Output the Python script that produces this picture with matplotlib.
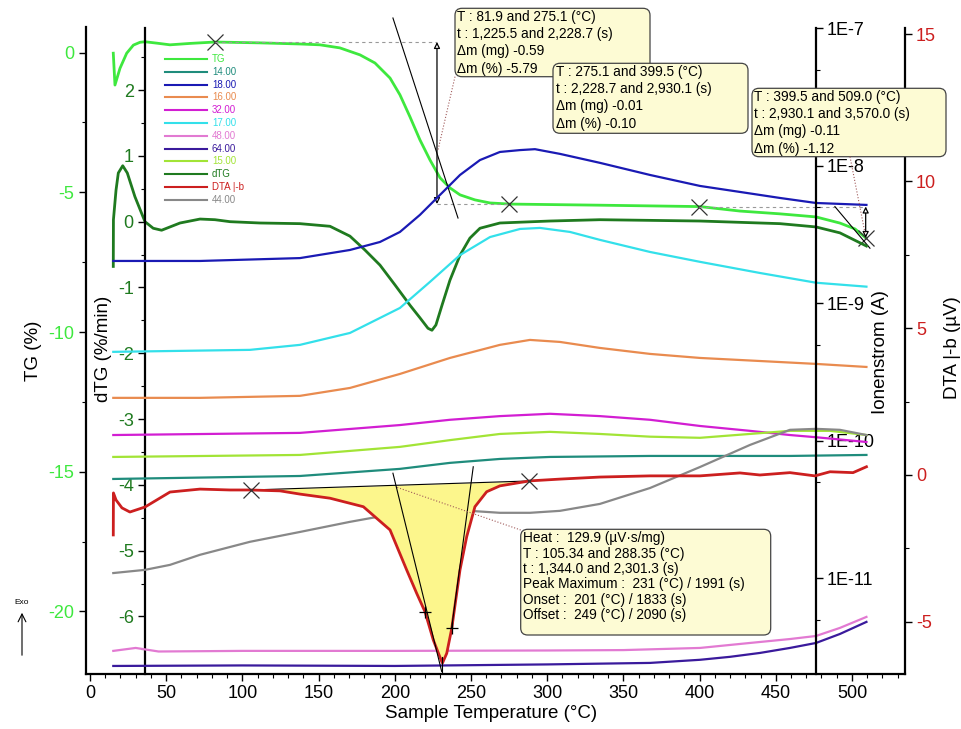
import numpy as np
import matplotlib.pyplot as plt
from matplotlib.patches import FancyBboxPatch, FancyArrowPatch
from matplotlib.lines import Line2D
from matplotlib.transforms import IdentityTransform
from matplotlib.ticker import MultipleLocator, FixedLocator, FuncFormatter

plt.rcParams['font.family'] = ['Liberation Sans', 'DejaVu Sans']
plt.rcParams['axes.unicode_minus'] = False

# ---------------- data ----------------
# TG (%)
T_tg = [15.3, 16.4, 19.7, 24.1, 28.5, 32.8, 36.1, 43.8, 52.5, 65.6, 82.0, 111.5, 137.8, 150.9,
        164.0, 177.2, 187.0, 196.9, 203.4, 210.0, 216.5, 223.1, 229.7, 236.2, 242.8, 252.6,
        262.5, 275.6, 334.6, 400.3, 426.5, 452.8, 476.4, 492.1, 502.0, 509.0]
tg = [-0.02, -1.16, -0.56, -0.02, 0.27, 0.37, 0.39, 0.34, 0.28, 0.33, 0.38, 0.35, 0.31, 0.28,
      0.17, -0.08, -0.37, -0.91, -1.51, -2.30, -3.12, -3.84, -4.48, -4.84, -5.09, -5.27,
      -5.38, -5.42, -5.46, -5.51, -5.67, -5.77, -5.88, -6.10, -6.31, -6.63]

# dTG (%/min)
T_dtg = [15.3, 15.4, 17.1, 18.6, 21.5, 24.5, 29.5, 36.1, 41.5, 47.0, 52.5, 59.1, 72.2, 82.0,
         91.9, 111.5, 137.8, 157.5, 170.6, 180.4, 190.3, 200.1, 210.0, 216.5, 221.8, 224.4,
         227.0, 231.0, 236.2, 242.8, 249.3, 255.9, 269.0, 301.8, 334.6, 400.3, 452.8, 476.4,
         492.1, 509.5]
dtg = [-0.68, 0.03, 0.48, 0.74, 0.85, 0.74, 0.38, 0.00, -0.10, -0.13, -0.08, -0.02, 0.04, 0.03,
       0.00, -0.02, -0.03, -0.07, -0.22, -0.43, -0.66, -0.96, -1.27, -1.46, -1.62, -1.65,
       -1.57, -1.27, -0.89, -0.51, -0.25, -0.10, -0.02, 0.01, 0.03, 0.01, -0.03, -0.08,
       -0.17, -0.37]

# DTA |-b (uV)
T_dta = [15.3, 15.4, 17.1, 21.0, 26.2, 36.1, 52.5, 72.2, 91.9, 105.0, 124.7, 137.8, 157.5,
         179.4, 196.9, 207.8, 214.4, 219.8, 225.3, 230.8, 231.3, 234.1, 237.4, 242.8, 247.2,
         252.6, 260.3, 269.0, 288.7, 308.4, 334.6, 367.5, 400.3, 426.5, 439.6, 459.3, 475.7,
         485.6, 500.7, 509.5]
dta = [-2.04, -0.61, -0.85, -1.12, -1.26, -1.09, -0.58, -0.48, -0.51, -0.51, -0.54, -0.65,
       -0.79, -1.08, -1.87, -3.23, -4.03, -4.65, -5.62, -6.35, -6.40, -6.07, -5.22, -3.23,
       -2.10, -1.08, -0.57, -0.37, -0.20, -0.14, -0.07, -0.03, -0.03, 0.07, 0.00, 0.08,
       -0.03, 0.11, 0.08, 0.28]

# ion currents (A), m/z channels
T_i18 = [15.3, 72.2, 137.8, 170.6, 190.3, 203.4, 216.5, 229.7, 242.8, 255.9, 269.0, 282.2,
         292.0, 308.4, 334.6, 367.5, 400.3, 426.5, 452.8, 476.4, 509.5]
i18 = [2.03e-9, 2.03e-9, 2.13e-9, 2.44e-9, 2.79e-9, 3.30e-9, 4.39e-9, 6.14e-9, 8.57e-9,
       1.10e-8, 1.26e-8, 1.30e-8, 1.32e-8, 1.22e-8, 1.05e-8, 8.57e-9, 7.13e-9, 6.45e-9,
       5.83e-9, 5.36e-9, 5.19e-9]
T_i17 = [15.3, 105.0, 137.8, 170.6, 203.4, 223.1, 242.8, 262.5, 282.2, 295.3, 315.0, 334.6,
         367.5, 400.3, 439.6, 476.4, 509.5]
i17 = [4.43e-10, 4.58e-10, 4.98e-10, 6.08e-10, 9.24e-10, 1.43e-9, 2.24e-9, 3.03e-9, 3.47e-9,
       3.53e-9, 3.30e-9, 2.89e-9, 2.36e-9, 2.00e-9, 1.66e-9, 1.41e-9, 1.32e-9]
T_i16 = [15.3, 72.2, 137.8, 170.6, 203.4, 236.2, 269.0, 288.7, 308.4, 334.6, 367.5, 400.3,
         439.6, 476.4, 509.5]
i16 = [2.05e-10, 2.05e-10, 2.12e-10, 2.42e-10, 3.06e-10, 4.00e-10, 4.98e-10, 5.41e-10,
       5.23e-10, 4.73e-10, 4.28e-10, 4.00e-10, 3.80e-10, 3.62e-10, 3.44e-10]
T_i32 = [15.3, 137.8, 203.4, 236.2, 269.0, 301.8, 334.6, 367.5, 400.3, 433.0, 459.3, 476.4, 509.5]
i32 = [1.10e-10, 1.14e-10, 1.30e-10, 1.42e-10, 1.51e-10, 1.57e-10, 1.51e-10, 1.42e-10,
       1.28e-10, 1.18e-10, 1.10e-10, 1.06e-10, 9.79e-11]
T_i15 = [15.3, 137.8, 203.4, 236.2, 269.0, 301.8, 334.6, 367.5, 400.3, 433.0, 459.3, 485.6, 509.5]
i15 = [7.62e-11, 7.88e-11, 9.02e-11, 1.01e-10, 1.12e-10, 1.16e-10, 1.12e-10, 1.07e-10,
       1.05e-10, 1.12e-10, 1.18e-10, 1.18e-10, 1.10e-10]
T_i14 = [15.3, 137.8, 203.4, 236.2, 269.0, 301.8, 367.5, 459.3, 509.5]
i14 = [5.27e-11, 5.54e-11, 6.24e-11, 6.90e-11, 7.37e-11, 7.62e-11, 7.75e-11, 7.75e-11, 7.88e-11]
T_i44 = [15.3, 36.1, 52.5, 72.2, 105.0, 137.8, 170.6, 203.4, 223.1, 249.3, 269.0, 288.7,
         308.4, 334.6, 367.5, 400.3, 433.0, 459.3, 476.4, 492.1, 509.5]
i44 = [1.09e-11, 1.15e-11, 1.25e-11, 1.48e-11, 1.84e-11, 2.17e-11, 2.57e-11, 2.99e-11,
       3.14e-11, 3.09e-11, 2.99e-11, 2.99e-11, 3.09e-11, 3.47e-11, 4.53e-11, 6.44e-11,
       9.31e-11, 1.20e-10, 1.22e-10, 1.20e-10, 1.10e-10]
T_i48 = [15.3, 30.0, 45.0, 100.0, 200.0, 300.0, 350.0, 400.3, 433.0, 459.3, 476.4, 492.1, 509.5]
i48 = [2.96e-12, 3.11e-12, 2.93e-12, 2.96e-12, 2.96e-12, 2.98e-12, 3.00e-12, 3.11e-12,
       3.38e-12, 3.61e-12, 3.80e-12, 4.35e-12, 5.23e-12]
T_i64 = [15.3, 100.0, 200.0, 300.0, 367.5, 400.3, 420.0, 439.6, 459.3, 476.4, 492.1, 509.5]
i64 = [2.30e-12, 2.32e-12, 2.30e-12, 2.36e-12, 2.42e-12, 2.55e-12, 2.68e-12, 2.86e-12,
       3.11e-12, 3.38e-12, 3.93e-12, 4.81e-12]

# evaluation results
tg_steps = [81.9, 275.1, 399.5, 509.0]
peak_lim = [105.34, 288.35]
onset_T, peak_T, offset_T = 201, 231, 249

box_texts = [
    "T : 81.9 and 275.1 (°C)\nt : 1,225.5 and 2,228.7 (s)\nΔm (mg) -0.59\nΔm (%) -5.79",
    "T : 275.1 and 399.5 (°C)\nt : 2,228.7 and 2,930.1 (s)\nΔm (mg) -0.01\nΔm (%) -0.10",
    "T : 399.5 and 509.0 (°C)\nt : 2,930.1 and 3,570.0 (s)\nΔm (mg) -0.11\nΔm (%) -1.12",
    "Heat :  129.9 (µV·s/mg)\nT : 105.34 and 288.35 (°C)\nt : 1,344.0 and 2,301.3 (s)\n"
    "Peak Maximum :  231 (°C) / 1991 (s)\nOnset :  201 (°C) / 1833 (s)\nOffset :  249 (°C) / 2090 (s)",
]

# ---------------- figure ----------------
W, H = 962, 729
fig = plt.figure(figsize=(W / 100, H / 100), dpi=100)
L, R, TOP, BOT = 85.7, 905, 27.5, 674
ax = fig.add_axes([L / W, 1 - BOT / H, (R - L) / W, (BOT - TOP) / H])
ax_d = ax.twinx()
ax_i = ax.twinx()
ax_t = ax.twinx()

c_tg, c_dtg, c_dta = '#3ee83e', '#1f7a1f', '#cc1f1f'
cols = {'14': '#1f8c7c', '18': '#1a1ab4', '16': '#e98b4f', '32': '#d21ed2', '17': '#33e0ea',
        '48': '#e27ad2', '64': '#3a1a9c', '15': '#a2e436', '44': '#888888'}

lw = 1.6
l_tg, = ax.plot(T_tg, tg, color=c_tg, lw=2.0)
l_dtg, = ax_d.plot(T_dtg, dtg, color=c_dtg, lw=2.0)
l14, = ax_i.plot(T_i14, i14, color=cols['14'], lw=lw)
l18, = ax_i.plot(T_i18, i18, color=cols['18'], lw=lw)
l16, = ax_i.plot(T_i16, i16, color=cols['16'], lw=lw)
l32, = ax_i.plot(T_i32, i32, color=cols['32'], lw=lw)
l17, = ax_i.plot(T_i17, i17, color=cols['17'], lw=lw)
l48, = ax_i.plot(T_i48, i48, color=cols['48'], lw=lw)
l64, = ax_i.plot(T_i64, i64, color=cols['64'], lw=lw)
l15, = ax_i.plot(T_i15, i15, color=cols['15'], lw=lw)
l44, = ax_i.plot(T_i44, i44, color=cols['44'], lw=lw)

# DTA peak integration
Tf = np.array([peak_lim[0]] + [t for t in T_dta if peak_lim[0] < t < peak_lim[1]] + [peak_lim[1]])
yf = np.interp(Tf, T_dta, dta)
base = np.interp(Tf, peak_lim, [yf[0], yf[-1]])
ax_t.fill_between(Tf, base, yf, color='#fcf68c', lw=0)
ax_t.plot(peak_lim, [yf[0], yf[-1]], color='black', lw=0.8)
l_dta, = ax_t.plot(T_dta, dta, color=c_dta, lw=2.0)
ax_t.plot(peak_lim, [yf[0], yf[-1]], 'x', color='#333333', ms=11, mew=0.9)
# onset / offset tangents
ax_t.plot([198.8, 230.8], [0.06, -6.69], color='black', lw=0.8)
ax_t.plot([237.3, 251.5], [-5.21, 0.28], color='black', lw=0.8)
ax_t.plot([219.8, 237.3], [-4.65, -5.21], '+', color='black', ms=9, mew=0.9)
ax_t.plot([peak_T, peak_T], [-6.2, -6.7], color='black', lw=0.8)

# TG step evaluation
lev = np.interp(tg_steps, T_tg, tg)
ax.plot(tg_steps, lev, 'x', color='#333333', ms=11, mew=0.9)
ax.plot([tg_steps[0], 227.7], [lev[0], lev[0]], color='#999999', lw=0.8, ls=(0, (3, 3)))
ax.plot([227.7, tg_steps[1]], [lev[1], lev[1]], color='#999999', lw=0.8, ls=(0, (3, 3)))
ax.plot([tg_steps[2], tg_steps[3]], [lev[2], lev[2]], color='#999999', lw=0.8, ls=(0, (3, 3)))
arr = dict(arrowstyle='<|-|>', fc='white', ec='black', lw=0.9, mutation_scale=9,
           shrinkA=0, shrinkB=0)
ax.annotate('', xy=(227.7, lev[0]), xytext=(227.7, lev[1]), arrowprops=arr)
ax.annotate('', xy=(tg_steps[3], lev[2]), xytext=(tg_steps[3], lev[3]), arrowprops=arr)
ax.plot([198.8, 241.5], [1.24, -5.92], color='black', lw=0.8, clip_on=False)
ax.plot([488.8, 511.8], [-5.51, -7.0], color='black', lw=0.8)

# ---------------- axes styling ----------------
ax.set_xlim(-2.8, 534.8)
ax.set_ylim(-22.24, 0.90)
ax_d.set_ylim(-6.874, 2.951)
ax_i.set_yscale('log')
ax_i.set_ylim(2.01e-12, 1.013e-7)
ax_t.set_ylim(-6.773, 15.23)

for a in (ax, ax_d, ax_i, ax_t):
    for s in a.spines.values():
        s.set_visible(False)
        s.set_linewidth(1.6)

ax.spines['left'].set_visible(True)
ax.spines['bottom'].set_visible(True)
ax.xaxis.set_major_locator(MultipleLocator(50))
ax.xaxis.set_minor_locator(MultipleLocator(10))
ax.tick_params(axis='x', which='major', length=5, width=1, labelsize=13, pad=3)
ax.tick_params(axis='x', which='minor', length=3, width=0.8)
ax.yaxis.set_major_locator(MultipleLocator(5))
ax.yaxis.set_minor_locator(MultipleLocator(2.5))
ax.tick_params(axis='y', which='major', length=5, width=1, labelsize=13, labelcolor=c_tg, pad=3)
ax.tick_params(axis='y', which='minor', length=3, width=0.8)

ax_d.yaxis.tick_left()
ax_d.spines['left'].set_visible(True)
ax_d.spines['left'].set_position(('data', 36.1))
ax_d.yaxis.set_major_locator(MultipleLocator(1))
ax_d.yaxis.set_minor_locator(MultipleLocator(0.5))
ax_d.tick_params(axis='y', which='major', length=5, width=1, labelsize=13, labelcolor=c_dtg, pad=3)
ax_d.tick_params(axis='y', which='minor', length=3, width=0.8)

ax_i.spines['right'].set_visible(True)
ax_i.spines['right'].set_position(('data', 476.2))
ax_i.yaxis.set_major_locator(FixedLocator([1e-11, 1e-10, 1e-9, 1e-8, 1e-7]))
ax_i.yaxis.set_minor_locator(FixedLocator([5e-12, 5e-11, 5e-10, 5e-9, 5e-8]))
ax_i.yaxis.set_major_formatter(FuncFormatter(lambda v, p: "1E%d" % round(np.log10(v))))
ax_i.yaxis.set_minor_formatter(FuncFormatter(lambda v, p: ""))
ax_i.tick_params(axis='y', which='major', length=5, width=1, labelsize=13, pad=3)
ax_i.tick_params(axis='y', which='minor', length=3, width=0.8)

ax_t.spines['right'].set_visible(True)
ax_t.yaxis.set_major_locator(MultipleLocator(5))
ax_t.yaxis.set_minor_locator(MultipleLocator(2.5))
ax_t.tick_params(axis='y', which='major', length=5, width=1, labelsize=13, labelcolor=c_dta, pad=3)
ax_t.tick_params(axis='y', which='minor', length=3, width=0.8)


def fx(x):
    return x / W


def fy(y):
    return 1 - y / H


fs_lab = 13.5
fig.text(fx(491), fy(714), "Sample Temperature (°C)", ha='center', va='center', fontsize=fs_lab)
fig.text(fx(33), fy(351), "TG (%)", rotation=90, ha='center', va='center', fontsize=fs_lab)
fig.text(fx(104), fy(349), "dTG (%/min)", rotation=90, ha='center', va='center', fontsize=fs_lab)
fig.text(fx(881), fy(352), "Ionenstrom (A)", rotation=90, ha='center', va='center', fontsize=fs_lab)
fig.text(fx(953), fy(348), "DTA |-b (µV)", rotation=90, ha='center', va='center', fontsize=fs_lab)

# Exo arrow
fig.text(fx(22), fy(602), "Exo", ha='center', va='center', fontsize=6)
fig.add_artist(FancyArrowPatch((fx(22), fy(658)), (fx(22), fy(610)), transform=fig.transFigure,
                               arrowstyle='->', mutation_scale=14, lw=0.8, color='black'))

# legend (drawn by hand)
leg = [(l_tg, 'TG'), (l14, '14.00'), (l18, '18.00'), (l16, '16.00'), (l32, '32.00'),
       (l17, '17.00'), (l48, '48.00'), (l64, '64.00'), (l15, '15.00'), (l_dtg, 'dTG'),
       (l_dta, 'DTA |-b'), (l44, '44.00')]
for k, (ln, lab) in enumerate(leg):
    yy = 59 + k * 12.8
    fig.add_artist(Line2D([fx(165), fx(207)], [fy(yy), fy(yy)], color=ln.get_color(), lw=1.5,
                          transform=fig.transFigure))
    fig.text(fx(212), fy(yy), lab, color=ln.get_color(), fontsize=7, va='center')

# evaluation boxes (pixel positions)
boxes = [(455, 8.3, 650, 76.7), (553, 63.3, 748, 133.3), (752, 88.3, 946, 156.7),
         (520.7, 529.3, 770.7, 635)]
spacing = [1.28, 1.28, 1.28, 1.12]
for (x0, y0, x1, y1), txt, lsp in zip(boxes, box_texts, spacing):
    p = FancyBboxPatch((x0, H - y1), x1 - x0, y1 - y0, boxstyle='round,pad=0,rounding_size=7',
                       transform=IdentityTransform(), fc='#fdfbd4', ec='#444444', lw=0.9)
    fig.add_artist(p)
    fig.text(fx(x0 + 2.5), fy(y0 + 2), txt, ha='left', va='top', fontsize=9.8, linespacing=lsp)

# dotted connectors
for (xa, ya, xb, yb) in [(455, 76.7, 438, 150), (850, 156.7, 865, 233), (520.7, 530, 396, 487)]:
    fig.add_artist(Line2D([fx(xa), fx(xb)], [fy(ya), fy(yb)], color='#a05a5a', lw=0.8, ls=':',
                          transform=fig.transFigure))

fig.savefig('out.png', dpi=100)
